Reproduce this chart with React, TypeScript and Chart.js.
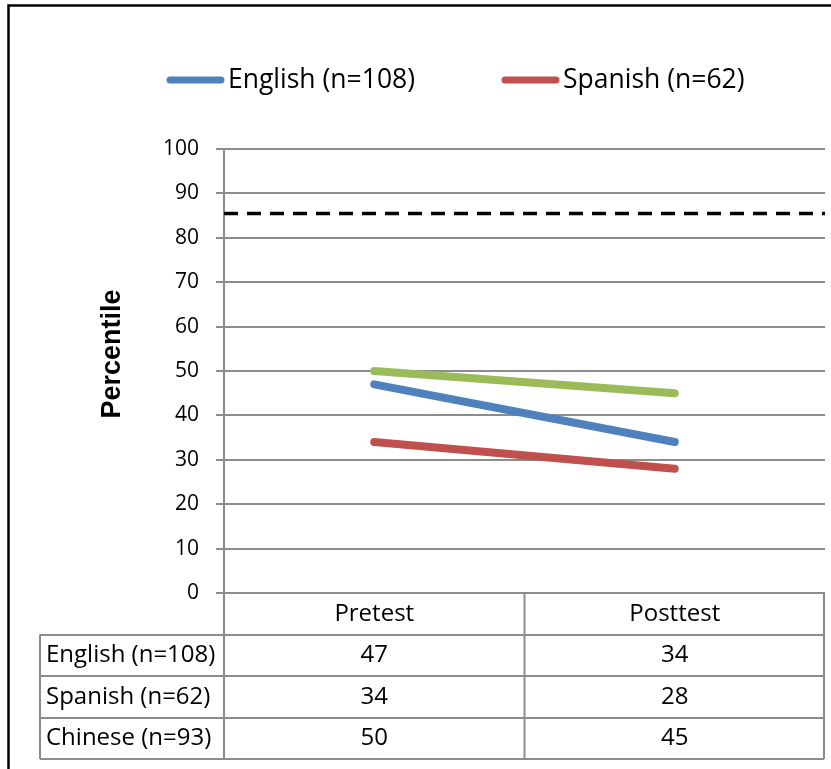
import React, { useEffect, useRef } from 'react';
import { Chart, registerables } from 'chart.js';

Chart.register(...registerables);

// ---- data ----
const categories = ['Pretest', 'Posttest'];
const seriesNames = ['English (n=108)', 'Spanish (n=62)', 'Chinese (n=93)'];
const englishValues = [47, 34];
const spanishValues = [34, 28];
const chineseValues = [50, 45];
const benchmarkValue = 85.5;
const yMin = 0;
const yMax = 100;
const yStep = 10;
const yTitle = 'Percentile';

// ---- styles ----
const seriesColors = ['#4F81BD', '#C0504D', '#9BBB59'];
const gridColor = '#8c8c8c';
const textFont = '"Open Sans", Lato, sans-serif';

const W = 831;
const H = 769;

const decorPlugin = {
  id: 'decor',
  afterDraw(chart: any) {
    const ctx: CanvasRenderingContext2D = chart.ctx;
    const area = chart.chartArea;
    const xs = chart.scales.x;
    ctx.save();

    // outer frame (chart border, cropped on right/bottom)
    ctx.strokeStyle = '#000';
    ctx.lineWidth = 2.5;
    ctx.beginPath();
    ctx.moveTo(8.5, H + 5);
    ctx.lineTo(8.5, 5.5);
    ctx.lineTo(W + 5, 5.5);
    ctx.stroke();

    // legend (the third entry falls beyond the cropped right edge, as in the source)
    const lineDatasets = chart.data.datasets.filter((d: any) => !d.isBenchmark);
    let lx = 166;
    const ly = 80;
    ctx.font = `26.5px ${textFont}`;
    ctx.textBaseline = 'middle';
    ctx.textAlign = 'left';
    lineDatasets.forEach((d: any) => {
      ctx.strokeStyle = d.borderColor;
      ctx.lineWidth = 7;
      ctx.lineCap = 'round';
      ctx.beginPath();
      ctx.moveTo(lx + 4, ly);
      ctx.lineTo(lx + 55, ly);
      ctx.stroke();
      ctx.fillStyle = '#000';
      ctx.fillText(d.label, lx + 62, ly);
      const w = ctx.measureText(d.label).width;
      lx = lx + 62 + w + 86;
    });
    ctx.lineCap = 'butt';

    // y axis title
    ctx.save();
    ctx.translate(113, 354);
    ctx.rotate(-Math.PI / 2);
    ctx.font = `bold 27px "Liberation Sans", Arial, sans-serif`;
    ctx.fillStyle = '#000';
    ctx.textAlign = 'center';
    ctx.textBaseline = 'middle';
    ctx.fillText(yTitle, 0, 0);
    ctx.restore();

    // data table
    const top = area.bottom;
    const rowH = 41.5;
    const labelLeft = 40;
    const left = area.left;
    const right = area.right - 1;
    const nRows = lineDatasets.length;
    const bottom = top + rowH * (nRows + 1);
    const centers = categories.map((_, i) => xs.getPixelForValue(i));
    const dividers: number[] = [];
    for (let i = 0; i < centers.length - 1; i++) dividers.push((centers[i] + centers[i + 1]) / 2);

    ctx.strokeStyle = gridColor;
    ctx.lineWidth = 2;
    ctx.beginPath();
    for (let r = 1; r <= nRows + 1; r++) {
      const y = Math.round(top + rowH * r);
      ctx.moveTo(labelLeft, y);
      ctx.lineTo(right, y);
    }
    ctx.moveTo(left, top);
    ctx.lineTo(left, bottom);
    ctx.moveTo(right, top);
    ctx.lineTo(right, bottom);
    dividers.forEach((x) => {
      ctx.moveTo(x, top);
      ctx.lineTo(x, bottom);
    });
    ctx.moveTo(labelLeft, top + rowH);
    ctx.lineTo(labelLeft, bottom);
    ctx.stroke();

    ctx.fillStyle = '#000';
    ctx.font = `24px ${textFont}`;
    ctx.textBaseline = 'middle';
    ctx.textAlign = 'center';
    categories.forEach((c, i) => ctx.fillText(c, centers[i], top + rowH / 2));
    lineDatasets.forEach((d: any, r: number) => {
      const cy = top + rowH * (r + 1) + rowH / 2;
      ctx.textAlign = 'left';
      ctx.fillText(d.label, labelLeft + 6, cy);
      ctx.textAlign = 'center';
      d.data.forEach((v: number, i: number) => ctx.fillText(String(v), centers[i], cy));
    });

    ctx.restore();
  },
};

export default function App() {
  const ref = useRef<HTMLCanvasElement>(null);
  useEffect(() => {
    document.body.style.margin = '0';
    const lineStyle = (i: number) => ({
      borderColor: seriesColors[i],
      backgroundColor: seriesColors[i],
      borderWidth: 8,
      borderCapStyle: 'round' as const,
      pointRadius: 0,
      tension: 0,
      xAxisID: 'x',
    });
    const chart = new Chart(ref.current!, {
      type: 'line',
      data: {
        labels: categories,
        datasets: [
          { label: seriesNames[0], data: englishValues, ...lineStyle(0) },
          { label: seriesNames[1], data: spanishValues, ...lineStyle(1) },
          { label: seriesNames[2], data: chineseValues, ...lineStyle(2) },
          {
            label: 'Benchmark',
            isBenchmark: true,
            xAxisID: 'x2',
            data: [
              { x: 0, y: benchmarkValue },
              { x: 1, y: benchmarkValue },
            ],
            borderColor: '#000',
            borderWidth: 3.5,
            borderDash: [14, 9],
            pointRadius: 0,
          } as any,
        ],
      },
      options: {
        animation: false,
        responsive: false,
        devicePixelRatio: 1,
        layout: { padding: { top: 149, bottom: H - 593, left: 0, right: 6 } },
        plugins: { legend: { display: false }, tooltip: { enabled: false } },
        scales: {
          x: { type: 'category', offset: true, display: false },
          x2: { type: 'linear', min: 0, max: 1, display: false },
          y: {
            min: yMin,
            max: yMax,
            ticks: {
              stepSize: yStep,
              color: '#000',
              padding: 17,
              font: { family: textFont, size: 21 },
            },
            grid: { color: gridColor, lineWidth: 2, tickLength: 8, tickColor: gridColor },
            border: { display: true, color: gridColor, width: 2 },
            afterFit: (s: any) => {
              s.width = 224;
            },
          },
        },
      },
      plugins: [decorPlugin],
    });
    return () => chart.destroy();
  }, []);
  return (
    <div style={{ position: 'fixed', left: 0, top: 0, width: W, height: H, background: '#fff', overflow: 'hidden' }}>
      <canvas ref={ref} width={W} height={H} style={{ display: 'block', width: W, height: H }} />
    </div>
  );
}
